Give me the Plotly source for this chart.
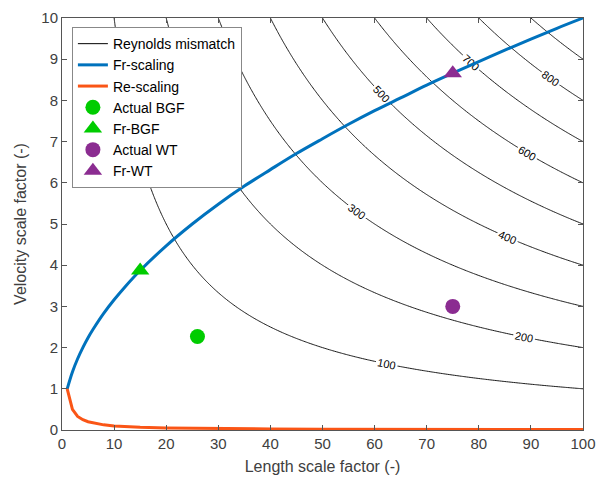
import numpy as np
import plotly.graph_objects as go

# Fr-scaling curve (velocity vs length scale factor)
fr_L = [1, 2, 3, 4, 5, 6, 8, 10, 12, 15, 20, 25, 30, 35, 40, 45, 50, 55, 60, 65, 70, 75, 80, 85, 90, 95, 100]
fr_V = [1.0, 1.41, 1.73, 2.0, 2.24, 2.45, 2.83, 3.16, 3.46, 3.87, 4.47, 5.0, 5.48, 5.92, 6.32,
        6.71, 7.07, 7.42, 7.75, 8.06, 8.37, 8.66, 8.94, 9.22, 9.49, 9.75, 10.0]

# Re-scaling curve
re_L = [1, 2, 3, 4, 5, 6, 7, 8, 10, 12, 15, 20, 30, 40, 50, 60, 70, 80, 90, 100]
re_V = [1.0, 0.5, 0.33, 0.25, 0.2, 0.17, 0.14, 0.125, 0.1, 0.083, 0.067, 0.05, 0.033, 0.025,
        0.02, 0.017, 0.014, 0.0125, 0.011, 0.01]

# Markers
bgf_actual = (26, 2.27)
bgf_fr = (15, 3.87)
wt_actual = (75, 3.0)
wt_fr = (75, 8.66)

# Reynolds mismatch field (product of length and velocity scale factors)
grid_L = np.linspace(0, 100, 301)
grid_V = np.linspace(0, 10, 301)
mismatch = np.outer(grid_V, grid_L)
contour_levels = dict(start=100, end=900, size=100)

BLUE = "#0072BD"
ORANGE = "#FA5516"
GREEN = "#00CC00"
PURPLE = "#8B2C91"
FONT = "Liberation Sans, Arial, sans-serif"

fig = go.Figure()

fig.add_trace(go.Contour(
    x=grid_L, y=grid_V, z=mismatch,
    contours=dict(coloring="lines", showlabels=True,
                  labelfont=dict(size=11, color="black", family=FONT), **contour_levels),
    colorscale=[[0, "black"], [1, "black"]],
    line=dict(width=0.9),
    showscale=False, showlegend=False, hoverinfo="skip",
))

# legend proxy for contours
fig.add_trace(go.Scatter(x=[None], y=[None], mode="lines", name="Reynolds mismatch",
                         line=dict(color="black", width=1)))

fig.add_trace(go.Scatter(x=fr_L, y=fr_V, mode="lines", name="Fr-scaling",
                         line=dict(color=BLUE, width=3, shape="spline")))
fig.add_trace(go.Scatter(x=re_L, y=re_V, mode="lines", name="Re-scaling",
                         line=dict(color=ORANGE, width=3)))

fig.add_trace(go.Scatter(x=[bgf_actual[0]], y=[bgf_actual[1]], mode="markers", name="Actual BGF",
                         marker=dict(symbol="circle", size=15, color=GREEN)))
fig.add_trace(go.Scatter(x=[bgf_fr[0]], y=[bgf_fr[1]], mode="markers", name="Fr-BGF",
                         marker=dict(symbol="triangle-up", size=16, color=GREEN)))
fig.add_trace(go.Scatter(x=[wt_actual[0]], y=[wt_actual[1]], mode="markers", name="Actual WT",
                         marker=dict(symbol="circle", size=15, color=PURPLE)))
fig.add_trace(go.Scatter(x=[wt_fr[0]], y=[wt_fr[1]], mode="markers", name="Fr-WT",
                         marker=dict(symbol="triangle-up", size=16, color=PURPLE)))

axis_common = dict(
    showgrid=False, zeroline=False, showline=True, linecolor="#555555", linewidth=1,
    mirror="ticks", ticks="inside", ticklen=5, tickcolor="#555555", automargin=False,
    tickfont=dict(size=15, color="#404040", family=FONT),
)

fig.update_layout(
    width=598, height=480,
    margin=dict(l=62, r=15, t=18, b=50),
    paper_bgcolor="white", plot_bgcolor="white",
    font=dict(family=FONT, color="#404040"),
    xaxis=dict(range=[0, 100], tickmode="linear", tick0=0, dtick=10,
               title=dict(text="Length scale factor (-)", font=dict(size=16, color="#404040"), standoff=9),
               **axis_common),
    yaxis=dict(range=[0, 10], tickmode="linear", tick0=0, dtick=1,
               title=dict(text="Velocity scale factor (-)", font=dict(size=16, color="#404040"), standoff=10),
               **axis_common),
    legend=dict(x=0.019, y=0.978, xanchor="left", yanchor="top",
                bgcolor="white", bordercolor="#888888", borderwidth=1,
                font=dict(size=14, color="black", family=FONT),
                tracegroupgap=0, itemwidth=30),
    showlegend=True,
)

fig.write_html("out.html")
